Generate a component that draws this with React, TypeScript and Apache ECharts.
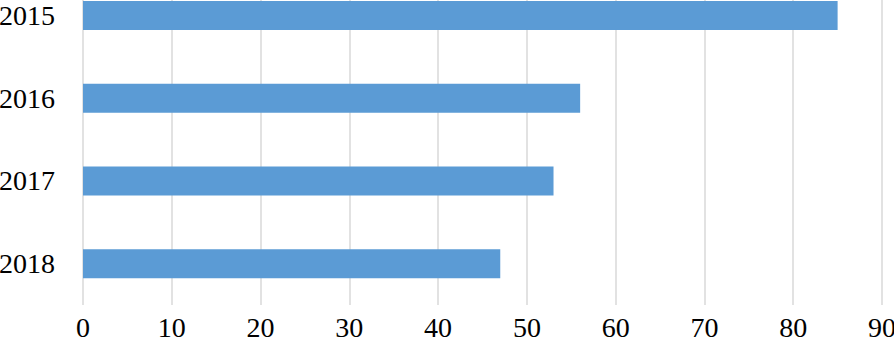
import React, { useEffect, useRef } from "react";
import * as echarts from "echarts";

const categories = ["2015", "2016", "2017", "2018"];
const values = [85, 56, 53, 47];
const xMin = 0;
const xMax = 90;
const xInterval = 10;

export default function App() {
  const ref = useRef<HTMLDivElement>(null);
  useEffect(() => {
    if (!ref.current) return;
    const chart = echarts.init(ref.current, null, { renderer: "svg" });
    chart.setOption({
      animation: false,
      backgroundColor: "#ffffff",
      grid: {
        left: 83,
        right: 12,
        top: 0,
        bottom: 38,
        containLabel: false,
        outerBoundsMode: "none",
      },
      xAxis: {
        type: "value",
        min: xMin,
        max: xMax,
        interval: xInterval,
        axisLine: { show: false },
        axisTick: { show: false },
        splitLine: { show: true, lineStyle: { color: "#d9d9d9", width: 1.5 } },
        axisLabel: {
          fontFamily: "Liberation Serif",
          fontSize: 28,
          color: "#000000",
          margin: 8,
        },
      },
      yAxis: {
        type: "category",
        data: categories,
        inverse: true,
        axisLine: { show: false },
        axisTick: { show: false },
        axisLabel: {
          fontFamily: "Liberation Serif",
          fontSize: 28,
          color: "#000000",
          margin: 28,
        },
      },
      series: [
        {
          type: "bar",
          data: values,
          barWidth: 29,
          itemStyle: { color: "#5b9bd5" },
        },
      ],
    });
    return () => chart.dispose();
  }, []);
  return (
    <div style={{ position: "fixed", left: 0, top: 0, width: 894, height: 343, overflow: "hidden", background: "#fff" }}>
      <div
        ref={ref}
        style={{ position: "absolute", left: 0, top: -26, width: 894, height: 369 }}
      />
    </div>
  );
}
